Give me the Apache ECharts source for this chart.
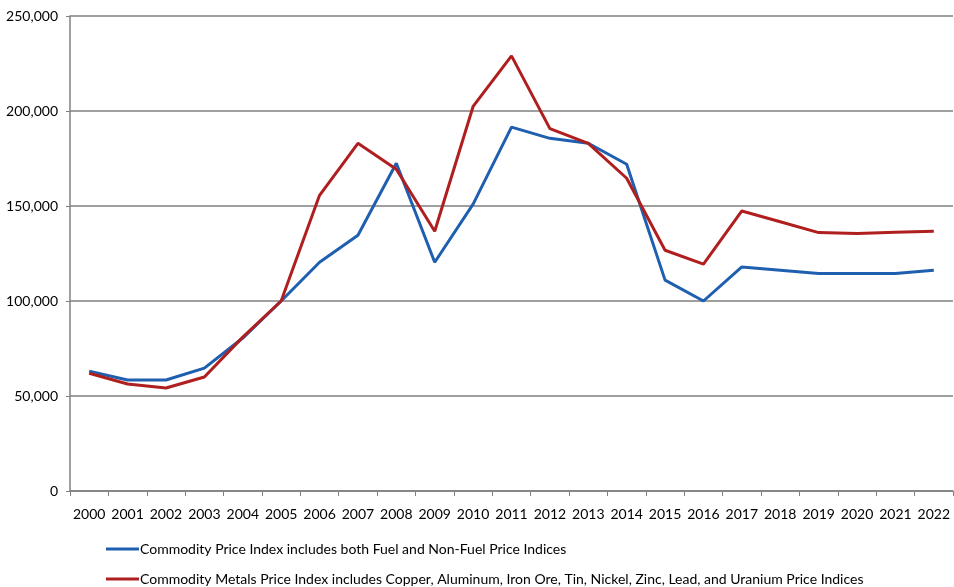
<!DOCTYPE html>
<html style="height: 100%">
<head>
    <meta charset="utf-8">
</head>
<body style="height: 100%;width: 100%;margin: 0;">
    <div id="container" style="height: 587px;width: 954px;"></div>
    <script type="text/javascript" src="https://cdn.jsdelivr.net/npm/echarts@6/dist/echarts.min.js"></script>
    <script type="text/javascript">
        var years = ['2000', '2001', '2002', '2003', '2004', '2005', '2006', '2007', '2008', '2009', '2010', '2011',
            '2012', '2013', '2014', '2015', '2016', '2017', '2018', '2019', '2020', '2021', '2022'];
        var allCommodity = [63000, 58400, 58400, 64700, 80500, 100000, 120400, 134600, 172500, 120400, 151000, 191500,
            185600, 183000, 172000, 111000, 100000, 117900, 116200, 114500, 114500, 114500, 116200];
        var metals = [62000, 56300, 54200, 60000, 81000, 100000, 155600, 183000, 169300, 136700, 202400, 229000,
            190700, 183000, 164600, 126700, 119400, 147400, 141700, 136000, 135500, 136200, 136700];
        var seriesNames = ['Commodity Price Index includes both Fuel and Non-Fuel Price Indices',
            'Commodity Metals Price Index includes Copper, Aluminum, Iron Ore, Tin, Nickel, Zinc, Lead, and Uranium Price Indices'];

        var dom = document.getElementById("container");
        var myChart = echarts.init(dom);
        var font = 'Lato, "Open Sans", sans-serif';

        // one legend per row so they stack like the original
        function legendRow(name, top) {
            return {
                left: 106,
                top: top,
                padding: 0,
                itemWidth: 33,
                itemHeight: 3,
                icon: 'rect',
                textStyle: { fontSize: 14, color: '#000', fontFamily: font, padding: [0, 0, 0, -4] },
                data: [name]
            };
        }

        var option = {
            animation: false,
            textStyle: { fontFamily: font },
            grid: { left: 70, right: 1, top: 16, bottom: 96 },
            legend: [legendRow(seriesNames[0], 542), legendRow(seriesNames[1], 572)],
            xAxis: {
                type: 'category',
                data: years,
                boundaryGap: true,
                axisLine: { lineStyle: { color: '#808080', width: 1.5 } },
                axisTick: { show: true, length: 5, lineStyle: { color: '#808080' } },
                axisLabel: { fontSize: 14, color: '#000', margin: 16, interval: 0 }
            },
            yAxis: {
                type: 'value',
                min: 0,
                max: 250000,
                interval: 50000,
                axisLine: { show: true, lineStyle: { color: '#808080', width: 1.5 } },
                axisTick: { show: true, length: 4, lineStyle: { color: '#808080' } },
                splitLine: { lineStyle: { color: '#7f7f7f', width: 1.5 } },
                axisLabel: {
                    fontSize: 14, color: '#000', margin: 12,
                    formatter: function (v) { return v.toLocaleString('en-US'); }
                }
            },
            series: [{
                name: seriesNames[0],
                type: 'line',
                data: allCommodity,
                showSymbol: false,
                symbol: 'none',
                lineStyle: { color: '#1f5faf', width: 3 },
                itemStyle: { color: '#1f5faf' }
            }, {
                name: seriesNames[1],
                type: 'line',
                data: metals,
                showSymbol: false,
                symbol: 'none',
                lineStyle: { color: '#b01f1f', width: 3 },
                itemStyle: { color: '#b01f1f' }
            }]
        };

        myChart.setOption(option);
        window.onresize = myChart.resize;
    </script>
</body>
</html>
